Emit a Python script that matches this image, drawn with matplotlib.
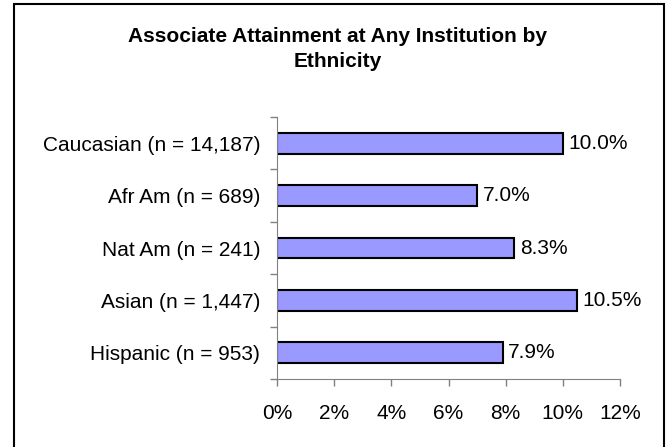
import matplotlib.pyplot as plt
from matplotlib.patches import Rectangle

plt.rcParams['font.family'] = ['Liberation Sans', 'DejaVu Sans']

categories = ["Caucasian (n = 14,187)", "Afr Am (n = 689)", "Nat Am (n = 241)",
              "Asian (n = 1,447)", "Hispanic (n = 953)"]
values = [10.0, 7.0, 8.3, 10.5, 7.9]
ticks = [0, 2, 4, 6, 8, 10, 12]

fig = plt.figure(figsize=(6.7, 4.47), dpi=100)
ax = fig.add_axes([277 / 670, 68 / 447, 343 / 670, 262 / 447])

# outer frame (bottom edge runs off the image)
fig.patches.append(Rectangle((14 / 670, -10 / 447), 650 / 670, 453 / 447,
                             transform=fig.transFigure, fill=False,
                             edgecolor="black", linewidth=1.5))

ypos = list(range(len(categories)))
ax.barh(ypos, values, height=0.4, color="#9999FF", edgecolor="black", linewidth=1.5)

for y, v in zip(ypos, values):
    ax.annotate(f"{v:.1f}%", (v, y), xytext=(4, 0), textcoords="offset points",
                va="center", ha="left", fontsize=15)

ax.set_xlim(0, 12)
ax.set_ylim(len(categories) - 0.5, -0.5)
ax.set_xticks(ticks)
ax.set_xticklabels([f"{t}%" for t in ticks], fontsize=15)

# category labels between tick marks like excel
ax.set_yticks([y - 0.5 for y in range(len(categories) + 1)])
ax.set_yticklabels([])
ax.set_yticks(ypos, minor=True)
ax.set_yticklabels(categories, minor=True, fontsize=15)
ax.tick_params(axis="y", which="minor", length=0, pad=12)
ax.tick_params(axis="y", which="major", length=5, color="#808080", width=1)
ax.tick_params(axis="x", length=5, color="#808080", width=1, pad=13)

for s in ["top", "right"]:
    ax.spines[s].set_visible(False)
for s in ["left", "bottom"]:
    ax.spines[s].set_color("#808080")

fig.text(0.504, 0.89, "Associate Attainment at Any Institution by\nEthnicity",
         ha="center", va="center", fontsize=15, fontweight="bold", linespacing=1.4)

fig.savefig("out.png", dpi=100)
